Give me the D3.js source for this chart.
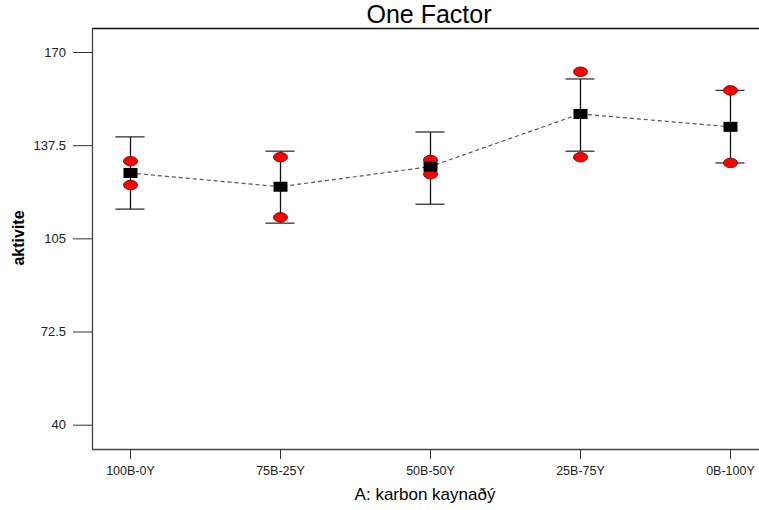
<!DOCTYPE html>
<meta charset="utf-8">
<style>
    body { margin: 0; background: #fff; }
    svg { display: block; font-family: Arial, "Liberation Sans", sans-serif; }
    .tick-label { fill: #222; }
</style>
<svg width="759" height="510"></svg>
<script src="https://d3js.org/d3.v7.min.js"></script>
<script>

    // data
    var categories = ["100B-0Y", "75B-25Y", "50B-50Y", "25B-75Y", "0B-100Y"];
    var means = [127.8, 123.0, 130.0, 148.4, 143.9];
    var barLow = [115.2, 110.3, 116.9, 135.4, 131.3];
    var barHigh = [140.4, 135.4, 142.1, 160.6, 156.6];
    var runHigh = [131.9, 133.3, 132.3, 163.1, 156.6];
    var runLow = [123.6, 112.3, 127.4, 133.3, 131.3];
    var yTicks = [40, 72.5, 105, 137.5, 170];

    var svg = d3.select("svg"),
        width = +svg.attr("width"),
        frame = {left: 92, top: 28, bottom: 449, right: width};

    var x = d3.scalePoint()
        .domain(categories)
        .range([130, 730]);

    var y = d3.scaleLinear()
        .domain([40, 170])
        .range([424.7, 52]);

    var rows = categories.map(function(c, i) {
        return {cat: c, mean: means[i], lo: barLow[i], hi: barHigh[i], r1: runHigh[i], r2: runLow[i]};
    });

    // title
    svg.append("text")
        .attr("x", 429).attr("y", 23)
        .attr("text-anchor", "middle")
        .style("font-size", "25px")
        .attr("fill", "#000")
        .text("One Factor");

    // frame
    svg.append("line")
        .attr("x1", frame.left).attr("x2", frame.right)
        .attr("y1", frame.top + 0.5).attr("y2", frame.top + 0.5)
        .attr("stroke", "#111").attr("stroke-width", 1.3);
    svg.append("line")
        .attr("x1", frame.left).attr("x2", frame.right)
        .attr("y1", frame.bottom + 0.5).attr("y2", frame.bottom + 0.5)
        .attr("stroke", "#444").attr("stroke-width", 1.3);
    svg.append("line")
        .attr("x1", frame.left + 0.5).attr("x2", frame.left + 0.5)
        .attr("y1", frame.top).attr("y2", frame.bottom)
        .attr("stroke", "#444").attr("stroke-width", 1.3);

    // y axis
    var yAxis = d3.axisLeft(y)
        .tickValues(yTicks)
        .tickFormat(function(d) { return d; })
        .tickSize(19)
        .tickPadding(7);
    var gy = svg.append("g")
        .attr("transform", "translate(" + frame.left + ",0)")
        .call(yAxis);
    gy.select(".domain").remove();
    gy.selectAll(".tick line").attr("stroke", "#333");
    gy.selectAll(".tick text")
        .attr("class", "tick-label")
        .style("font-size", "13px")
        .style("font-family", "Arial, 'Liberation Sans', sans-serif");

    // x axis
    var xAxis = d3.axisBottom(x)
        .tickSize(10)
        .tickPadding(7);
    var gx = svg.append("g")
        .attr("transform", "translate(0," + frame.bottom + ")")
        .call(xAxis);
    gx.select(".domain").remove();
    gx.selectAll(".tick line").attr("stroke", "#333");
    gx.selectAll(".tick text")
        .attr("class", "tick-label")
        .style("font-size", "12.5px")
        .style("font-family", "Arial, 'Liberation Sans', sans-serif");

    // axis titles
    svg.append("text")
        .attr("x", 425).attr("y", 500)
        .attr("text-anchor", "middle")
        .style("font-size", "17px")
        .attr("fill", "#000")
        .text("A: karbon kaynaðý");

    svg.append("text")
        .attr("transform", "translate(24,238) rotate(-90)")
        .attr("text-anchor", "middle")
        .style("font-size", "16px")
        .style("font-weight", "bold")
        .attr("fill", "#000")
        .text("aktivite");

    // mean line
    svg.append("path")
        .datum(rows)
        .attr("fill", "none")
        .attr("stroke", "#555")
        .attr("stroke-width", 1.2)
        .attr("stroke-dasharray", "4,3")
        .attr("d", d3.line()
            .x(function(d) { return x(d.cat); })
            .y(function(d) { return y(d.mean); }));

    // error bars
    var bars = svg.append("g").selectAll("g")
        .data(rows)
        .enter().append("g");

    bars.append("line")
        .attr("x1", function(d) { return x(d.cat) + 0.5; })
        .attr("x2", function(d) { return x(d.cat) + 0.5; })
        .attr("y1", function(d) { return y(d.hi); })
        .attr("y2", function(d) { return y(d.lo); })
        .attr("stroke", "#111").attr("stroke-width", 1.3);

    [["hi"], ["lo"]].forEach(function(k) {
        bars.append("line")
            .attr("x1", function(d) { return x(d.cat) - 14.5; })
            .attr("x2", function(d) { return x(d.cat) + 14.5; })
            .attr("y1", function(d) { return y(d[k[0]]); })
            .attr("y2", function(d) { return y(d[k[0]]); })
            .attr("stroke", "#333").attr("stroke-width", 1.3);
    });

    // design points
    ["r1", "r2"].forEach(function(k) {
        bars.append("ellipse")
            .attr("cx", function(d) { return x(d.cat) + 0.5; })
            .attr("cy", function(d) { return y(d[k]); })
            .attr("rx", 7).attr("ry", 4.8)
            .attr("fill", "#f00")
            .attr("stroke", "#600").attr("stroke-width", 0.8);
    });

    // means
    bars.append("rect")
        .attr("x", function(d) { return x(d.cat) - 6.5; })
        .attr("y", function(d) { return y(d.mean) - 5; })
        .attr("width", 14).attr("height", 10)
        .attr("fill", "#000");

</script>
